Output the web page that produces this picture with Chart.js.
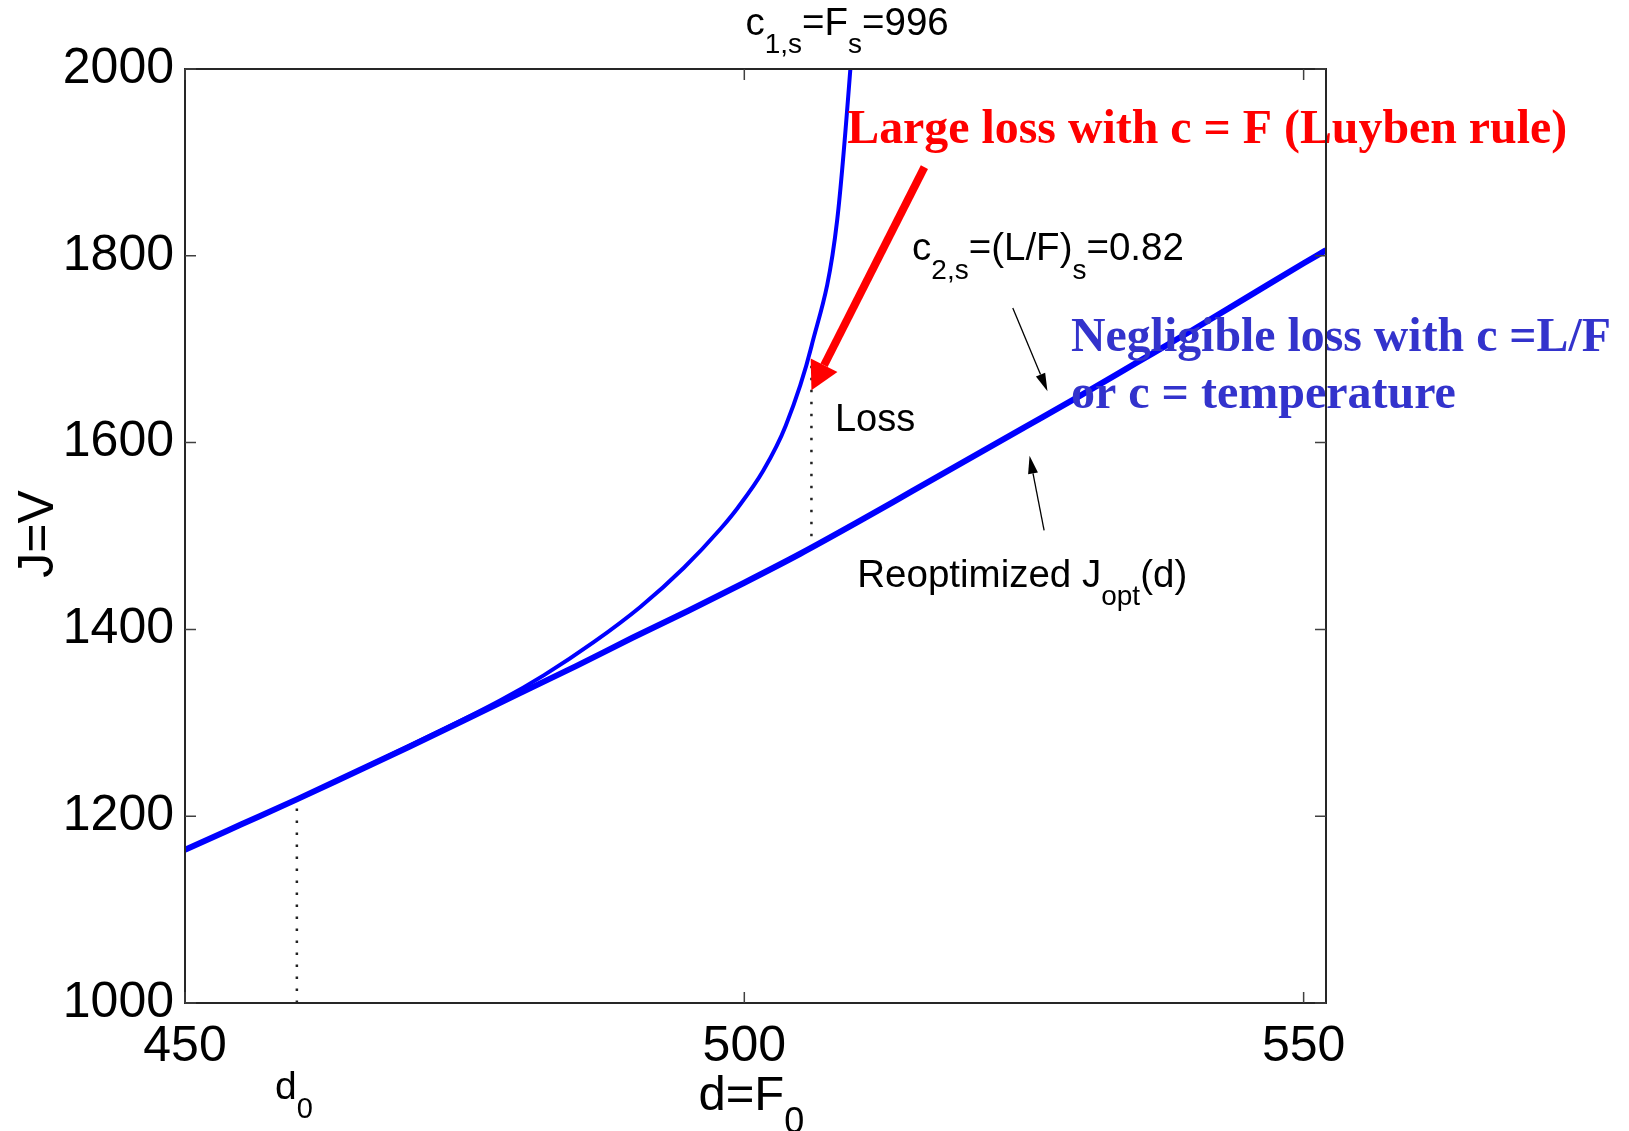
<!DOCTYPE html>
<html>
<head>
<meta charset="utf-8">
<script src="https://cdn.jsdelivr.net/npm/chart.js@4.4.1/dist/chart.umd.min.js"></script>
<style>
  html, body { margin: 0; padding: 0; background: #fff; }
  canvas { display: block; }
</style>
</head>
<body>
<canvas id="chart" width="1629" height="1131"></canvas>
<script>
(function () {
  "use strict";

  // ── Eksen değerleri ──────────────────────────────────────────────
  const xTicks = [450, 500, 550];
  const yTicks = [1000, 1200, 1400, 1600, 1800, 2000];

  // Reoptimized J_opt(d)
  const dOpt = [450, 455, 460, 465, 470, 475, 480, 485, 490, 495, 500, 505, 510, 515, 520, 525, 530, 535, 540, 545, 550, 552];
  const jOpt = [1164, 1191, 1218, 1246, 1274, 1303, 1332, 1361, 1391, 1420, 1450, 1481, 1514, 1548, 1582, 1616, 1650, 1685, 1720, 1756, 1792, 1806];

  // c1 = F sabit tutulunca
  const dConst = [450, 460, 470, 478.2, 482.1, 486.5, 490.7, 494.6, 497.9, 499.4, 501.7, 503.7, 506.0, 508.3, 510.5];
  const jConst = [1164, 1218, 1275, 1324, 1351, 1386, 1424, 1466, 1508, 1530, 1570, 1618, 1703, 1838, 2160];

  // noktalı dikey çizgiler
  const d0X = [460, 460];
  const d0Y = [1000, 1218];
  const lossX = [506, 506];
  const lossY = [1487, 1690];

  const SANS  = '"Liberation Sans", Arial, Helvetica, sans-serif';
  const SERIF = '"Liberation Serif", "Times New Roman", serif';

  function pairs(xs, ys) {
    return xs.map((x, i) => ({ x: x, y: ys[i] }));
  }

  // ── Notlar (veri koordinatında) ──────────────────────────────────
  const labels = [
    { parts: [["c"], ["1,s", 1], ["=F"], ["s", 1], ["=996"]], x: 500.1, y: 2036, size: 38.5 },
    { parts: [["c"], ["2,s", 1], ["=(L/F)"], ["s", 1], ["=0.82"]], x: 515.0, y: 1795, size: 38.5 },
    { parts: [["Loss"]], x: 508.1, y: 1612, size: 38 },
    { parts: [["Reoptimized J"], ["opt", 1], ["(d)"]], x: 510.1, y: 1445, size: 38.5 },
    { parts: [["d"], ["0", 1]], x: 458.05, y: 897, size: 39 },
    { parts: [["d=F"], ["0", 1]], x: 495.9, y: 885, size: 49 },
  ];

  const bigTexts = [
    { text: "Large loss with c = F (Luyben rule)", x: 509.2, y: 1921, color: "#ff0000", maxW: 720 },
    { text: "Negligible loss with c =L/F", x: 529.2, y: 1698, color: "#3333cc", maxW: 540 },
    { text: "or c = temperature", x: 529.2, y: 1637, color: "#3333cc", maxW: 386 },
  ];

  const arrows = [
    { from: [516.1, 1895], to: [506.0, 1656], color: "#ff0000", width: 8, head: 28, half: 15 },
    { from: [524.0, 1744], to: [527.1, 1655], color: "#000", width: 1.3, head: 18, half: 5 },
    { from: [526.8, 1506], to: [525.5, 1586], color: "#000", width: 1.3, head: 18, half: 5 },
  ];

  function drawParts(ctx, parts, x, y, size) {
    let cx = x;
    parts.forEach(([t, sub]) => {
      const fs = sub ? Math.round(size * 0.74) : size;
      ctx.font = fs + "px " + SANS;
      ctx.fillText(t, cx, y + (sub ? size * 0.47 : 0));
      cx += ctx.measureText(t).width;
    });
  }

  function drawArrow(ctx, x1, y1, x2, y2, a) {
    const ang = Math.atan2(y2 - y1, x2 - x1);
    const bx = x2 - a.head * Math.cos(ang);
    const by = y2 - a.head * Math.sin(ang);
    ctx.strokeStyle = a.color;
    ctx.fillStyle = a.color;
    ctx.lineWidth = a.width;
    ctx.lineCap = "butt";
    ctx.beginPath();
    ctx.moveTo(x1, y1);
    ctx.lineTo(bx, by);
    ctx.stroke();
    ctx.beginPath();
    ctx.moveTo(x2, y2);
    ctx.lineTo(bx + a.half * Math.sin(ang), by - a.half * Math.cos(ang));
    ctx.lineTo(bx - a.half * Math.sin(ang), by + a.half * Math.cos(ang));
    ctx.closePath();
    ctx.fill();
  }

  // ── Matlab tarzı çerçeve, iç tikler ve notlar ────────────────────
  const decorPlugin = {
    id: "decor",
    afterDraw(chart) {
      const ctx = chart.ctx;
      const a = chart.chartArea;
      const xs = chart.scales.x;
      const ys = chart.scales.y;
      const px = v => xs.getPixelForValue(v);
      const py = v => ys.getPixelForValue(v);

      ctx.save();

      // notlar
      ctx.fillStyle = "#000";
      ctx.textAlign = "left";
      ctx.textBaseline = "alphabetic";
      labels.forEach(l => drawParts(ctx, l.parts, px(l.x), py(l.y), l.size));

      ctx.font = "bold 48px " + SERIF;
      bigTexts.forEach(t => {
        ctx.fillStyle = t.color;
        ctx.fillText(t.text, px(t.x), py(t.y), t.maxW);
      });

      arrows.forEach(ar => drawArrow(ctx, px(ar.from[0]), py(ar.from[1]), px(ar.to[0]), py(ar.to[1]), ar));

      // y ekseni başlığı
      ctx.save();
      ctx.translate(a.left - 132, py(1500) - 2);
      ctx.rotate(-Math.PI / 2);
      ctx.fillStyle = "#000";
      ctx.textAlign = "center";
      ctx.font = "50px " + SANS;
      ctx.fillText("J=V", 0, 0);
      ctx.restore();

      // çerçeve
      ctx.strokeStyle = "#262626";
      ctx.lineWidth = 2;
      ctx.strokeRect(a.left, a.top, a.right - a.left, a.bottom - a.top);

      // iç tikler
      ctx.strokeStyle = "#404040";
      ctx.lineWidth = 1.5;
      ctx.beginPath();
      yTicks.forEach(v => {
        const y = py(v);
        ctx.moveTo(a.left, y);  ctx.lineTo(a.left + 11, y);
        ctx.moveTo(a.right, y); ctx.lineTo(a.right - 11, y);
      });
      xTicks.forEach(v => {
        const x = px(v);
        ctx.moveTo(x, a.bottom); ctx.lineTo(x, a.bottom - 11);
        ctx.moveTo(x, a.top);    ctx.lineTo(x, a.top + 11);
      });
      ctx.stroke();

      ctx.restore();
    },
  };

  const dotted = {
    borderColor: "#222",
    borderWidth: 2.5,
    borderDash: [2.5, 9.5],
    pointRadius: 0,
    showLine: true,
    fill: false,
  };

  new Chart(document.getElementById("chart"), {
    type: "scatter",
    data: {
      datasets: [
        {
          label: "Jopt",
          data: pairs(dOpt, jOpt),
          showLine: true,
          borderColor: "#0000ff",
          borderWidth: 6,
          pointRadius: 0,
          cubicInterpolationMode: "monotone",
        },
        {
          label: "c1 const",
          data: pairs(dConst, jConst),
          showLine: true,
          borderColor: "#0000ff",
          borderWidth: 4,
          pointRadius: 0,
          cubicInterpolationMode: "monotone",
        },
        Object.assign({ label: "d0", data: pairs(d0X, d0Y) }, dotted),
        Object.assign({ label: "loss", data: pairs(lossX, lossY) }, dotted),
      ],
    },
    options: {
      responsive: false,
      animation: false,
      events: [],
      layout: { padding: { top: 69, right: 303, left: 0, bottom: 0 } },
      plugins: {
        legend: { display: false },
        tooltip: { enabled: false },
      },
      scales: {
        x: {
          type: "linear",
          min: 450,
          max: 552,
          afterBuildTicks: s => { s.ticks = xTicks.map(v => ({ value: v })); },
          afterFit: s => { s.height = 128; },
          grid: { display: false, drawTicks: false },
          border: { display: false },
          ticks: {
            color: "#000",
            padding: 14,
            maxRotation: 0,
            autoSkip: false,
            callback: v => String(v),
            font: { family: SANS, size: 50 },
          },
        },
        y: {
          type: "linear",
          min: 1000,
          max: 2000,
          afterBuildTicks: s => { s.ticks = yTicks.map(v => ({ value: v })); },
          afterFit: s => { s.width = 185; },
          grid: { display: false, drawTicks: false },
          border: { display: false },
          ticks: {
            color: "#000",
            padding: 11,
            autoSkip: false,
            callback: v => String(v),
            font: { family: SANS, size: 50 },
          },
        },
      },
    },
    plugins: [decorPlugin],
  });
})();
</script>
</body>
</html>
